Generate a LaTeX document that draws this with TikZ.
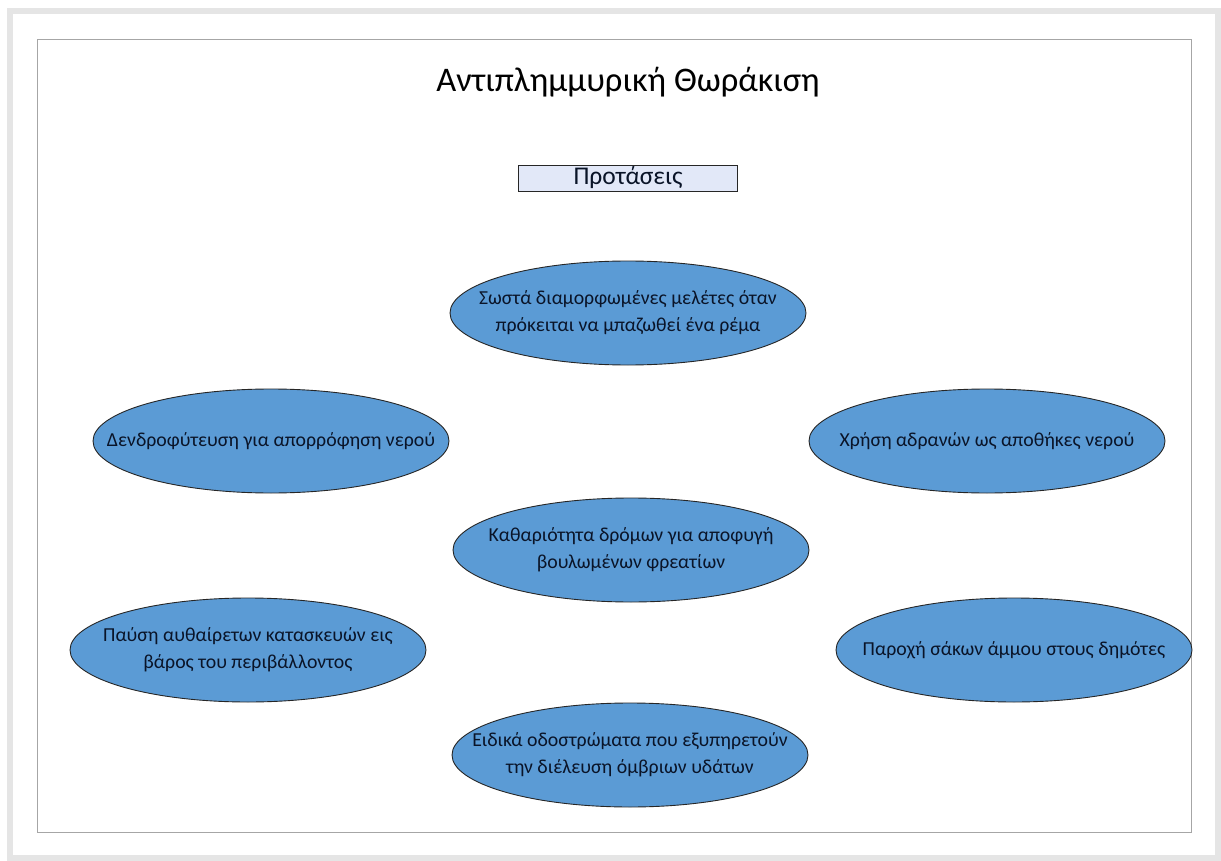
\documentclass[tikz,border=0pt]{standalone}
\usepackage{fontspec}
\setmainfont{Carlito}
\usetikzlibrary{shapes.geometric}
\definecolor{ellfill}{RGB}{91,155,213}
\definecolor{boxfill}{RGB}{226,232,248}
\definecolor{txt}{RGB}{10,20,40}
\tikzset{
  idea/.style={ellipse, draw=black!85, line width=0.9pt, fill=ellfill, inner sep=0pt,
    minimum width=356pt, minimum height=104pt},
  ideatext/.style={align=center, text=txt, inner sep=0pt,
    font=\fontsize{19.8}{27}\selectfont},
  heading/.style={draw=black!85, line width=0.9pt, fill=boxfill, minimum width=219pt,
    minimum height=26pt, inner sep=0pt, font=\fontsize{25.5}{28}\selectfont, text=txt},
  titletext/.style={font=\fontsize{34.5}{40}\selectfont, text=black}
}
\newcommand{\idea}[3]{%
  \node[idea] (#1) at (#2) {};
  \node[ideatext] (#1t) at (#1.center) {#3};}
\begin{document}
\begin{tikzpicture}[x=1pt,y=-1pt]
\useasboundingbox (0,0) rectangle (1221,861);
\fill[white] (0,0) rectangle (1221,861);
\draw[black!10, line width=6pt] (10,11) rectangle (1218,858);
\draw[black!35, line width=1pt] (37,40) rectangle (1191,832);
\node[titletext] (title) at (628,82) {Αντιπλημμυρική Θωράκιση};
\node[heading] (prop) at (628,178) {Προτάσεις};
\idea{e1}{628,313}{Σωστά διαμορφωμένες μελέτες όταν\\πρόκειται να μπαζωθεί ένα ρέμα}
\idea{e2}{271,441}{Δενδροφύτευση για απορρόφηση νερού}
\idea{e3}{987,441}{Χρήση αδρανών ως αποθήκες νερού}
\idea{e4}{631,550}{Καθαριότητα δρόμων για αποφυγή\\βουλωμένων φρεατίων}
\idea{e5}{248,650}{Παύση αυθαίρετων κατασκευών εις\\βάρος του περιβάλλοντος}
\idea{e6}{1014,650}{Παροχή σάκων άμμου στους δημότες}
\idea{e7}{630,755}{Ειδικά οδοστρώματα που εξυπηρετούν\\την διέλευση όμβριων υδάτων}
\end{tikzpicture}
\end{document}
